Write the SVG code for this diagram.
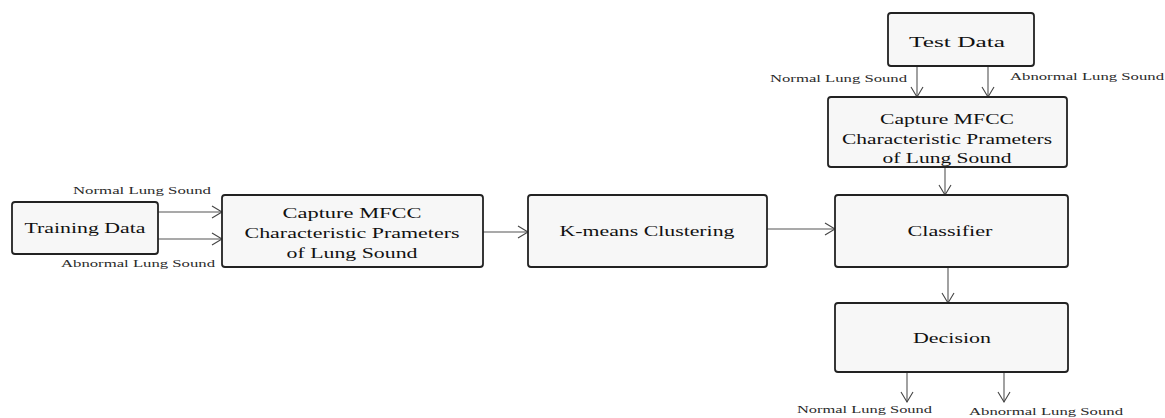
<svg xmlns="http://www.w3.org/2000/svg" width="1165" height="418" viewBox="0 0 1165 418">
<style>
.box{fill:#f7f7f7;stroke:#222;stroke-width:1.8}
.t{font-family:"Liberation Serif","Times New Roman",serif;font-size:15.5px;fill:#111;text-anchor:middle}
.l{font-family:"Liberation Serif","Times New Roman",serif;font-size:10.5px;fill:#2a2a2a}
.c{stroke:#555;stroke-width:1.1;fill:none;marker-end:url(#ah)}
</style>
<defs>
<marker id="ah" markerUnits="userSpaceOnUse" markerWidth="13" markerHeight="14" refX="11" refY="7" orient="auto">
<path d="M1,1 L11,7 L1,13" fill="none" stroke="#444" stroke-width="1.1"/>
</marker>
</defs>
<rect width="1165" height="418" fill="#ffffff"/>
<g id="connectors">
<path class="c" d="M158,212 H222"/>
<path class="c" d="M158,239 H222"/>
<path class="c" d="M483,232 H528"/>
<path class="c" d="M767,229 H835"/>
<path class="c" d="M917,66 V97"/>
<path class="c" d="M988,66 V97"/>
<path class="c" d="M945,167 V195"/>
<path class="c" d="M948,267 V303"/>
<path class="c" d="M907,372 V402"/>
<path class="c" d="M1004,372 V402"/>
<text class="l" x="73" y="194" textLength="138" lengthAdjust="spacingAndGlyphs">Normal Lung Sound</text>
<text class="l" x="61" y="267" textLength="154" lengthAdjust="spacingAndGlyphs">Abnormal Lung Sound</text>
<text class="l" x="770" y="82" textLength="137" lengthAdjust="spacingAndGlyphs">Normal Lung Sound</text>
<text class="l" x="1010" y="80" textLength="154" lengthAdjust="spacingAndGlyphs">Abnormal Lung Sound</text>
<text class="l" x="797" y="413" textLength="135" lengthAdjust="spacingAndGlyphs">Normal Lung Sound</text>
<text class="l" x="969" y="415" textLength="154" lengthAdjust="spacingAndGlyphs">Abnormal Lung Sound</text>
</g>
<g id="training">
<rect class="box" x="12" y="202" width="146" height="52" rx="3"/>
<text class="t" x="85" y="233" textLength="121" lengthAdjust="spacingAndGlyphs">Training Data</text>
</g>
<g id="mfcc1">
<rect class="box" x="222" y="195" width="261" height="72" rx="3"/>
<text class="t" x="352" y="218" textLength="139" lengthAdjust="spacingAndGlyphs">Capture MFCC</text>
<text class="t" x="352" y="238" textLength="215" lengthAdjust="spacingAndGlyphs">Characteristic Prameters</text>
<text class="t" x="352" y="258" textLength="131" lengthAdjust="spacingAndGlyphs">of Lung Sound</text>
</g>
<g id="kmeans">
<rect class="box" x="528" y="195" width="239" height="72" rx="3"/>
<text class="t" x="647" y="236" textLength="175" lengthAdjust="spacingAndGlyphs">K-means Clustering</text>
</g>
<g id="classifier">
<rect class="box" x="835" y="195" width="233" height="72" rx="3"/>
<text class="t" x="950" y="236" textLength="85" lengthAdjust="spacingAndGlyphs">Classifier</text>
</g>
<g id="test">
<rect class="box" x="888" y="13" width="146" height="53" rx="3"/>
<text class="t" x="957" y="47" textLength="96" lengthAdjust="spacingAndGlyphs">Test Data</text>
</g>
<g id="mfcc2">
<rect class="box" x="828" y="97" width="239" height="70" rx="3"/>
<text class="t" x="947" y="124" textLength="134" lengthAdjust="spacingAndGlyphs">Capture MFCC</text>
<text class="t" x="947" y="144" textLength="210" lengthAdjust="spacingAndGlyphs">Characteristic Prameters</text>
<text class="t" x="947" y="163" textLength="129" lengthAdjust="spacingAndGlyphs">of Lung Sound</text>
</g>
<g id="decision">
<rect class="box" x="835" y="303" width="233" height="69" rx="3"/>
<text class="t" x="952" y="343" textLength="78" lengthAdjust="spacingAndGlyphs">Decision</text>
</g>
</svg>
